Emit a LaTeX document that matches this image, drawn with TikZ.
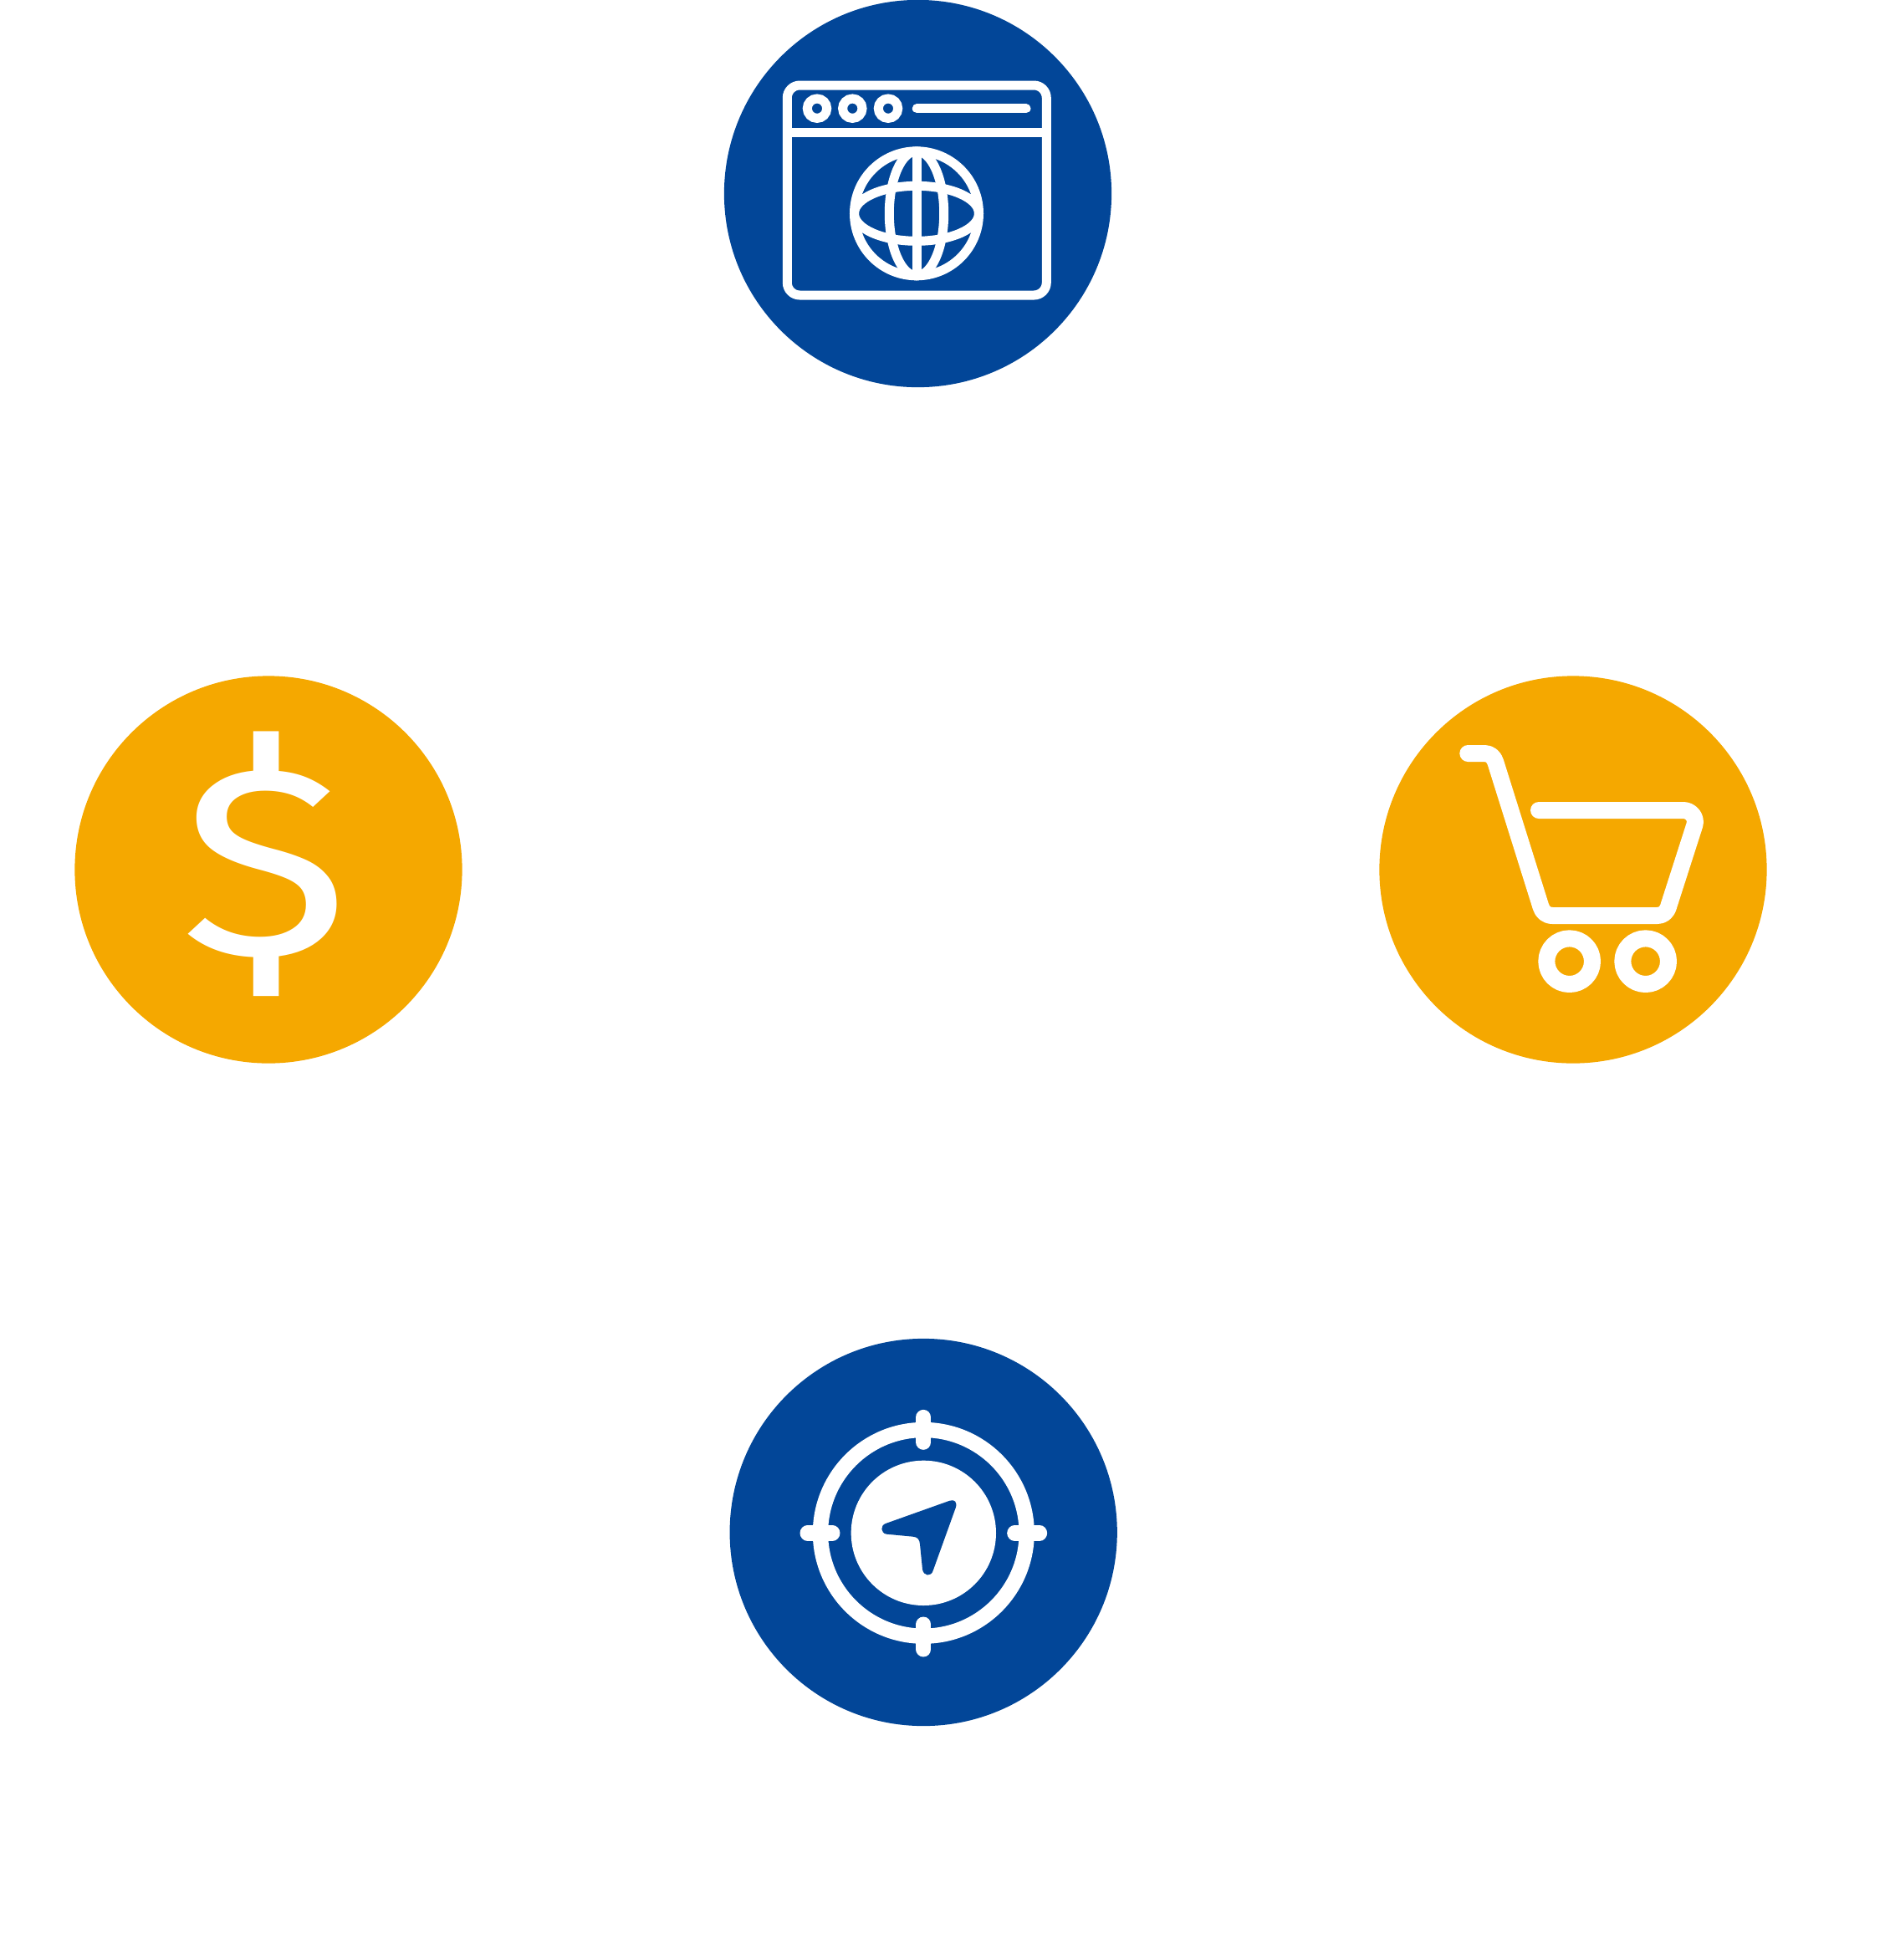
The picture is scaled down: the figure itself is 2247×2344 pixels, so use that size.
\documentclass[tikz,border=0pt]{standalone}
\usepackage{fontspec}
\setmainfont{Fira Sans}
\definecolor{discblue}{HTML}{024698}
\definecolor{discorange}{HTML}{F5A800}
\tikzset{
  disc/.style={circle, minimum size=4.63cm, inner sep=0pt},
  bluedisc/.style={disc, fill=discblue},
  orangedisc/.style={disc, fill=discorange},
  icon/.style={draw=white, line width=0.11cm},
  cartline/.style={draw=white, line width=0.2cm, line cap=round, line join=round},
  tick/.style={draw=white, line width=0.183cm, line cap=round}
}
\begin{document}
\begin{tikzpicture}[x=0.01cm,y=-0.01cm]
        \useasboundingbox (0,0) rectangle (2247,2344);
        %%%%%%%%%% Dischi %%%%%%%%%%
        \node[bluedisc] (web) at (1097.5,231.5) {};
        \node[orangedisc] (money) at (321,1040) {};
        \node[orangedisc] (cart) at (1881,1040) {};
        \node[bluedisc] (nav) at (1104.2,1832.5) {};

        %%%%%%%%%% Browser %%%%%%%%%%
        \draw[icon, rounded corners=0.15cm] (941.3,102) rectangle (1251.3,353);
        \draw[icon] (941.3,158) -- (1251.3,158);
        \foreach \px in {977,1019.3,1062}
            \draw[icon] (\px,129.7) circle[radius=11.7];
        \draw[icon, line cap=round] (1096.3,129.8) -- (1227,129.8);
        \draw[icon] (1096,255.3) circle[radius=74.5];
        \draw[icon] (1096,255.3) ellipse[x radius=32.7, y radius=74.5];
        \draw[icon] (1096,255.3) ellipse[x radius=74.5, y radius=33];
        \draw[icon] (1096,181) -- (1096,330);

        %%%%%%%%%% Dollaro %%%%%%%%%%
        \node[text=white, inner sep=0pt, xscale=1.18, transform shape, font=\fontsize{92}{92}\selectfont] (dollar) at (316.7,1033) {\$};

        %%%%%%%%%% Carrello %%%%%%%%%%
        \begin{scope}[shift={(1640,800)},x=0.01cm/3,y=-0.01cm/3]
            \draw[cartline] (346,303) -- (405,303) .. controls (425,303) and (439,315) .. (445,335)
                -- (607,852) .. controls (613,873) and (628,885) .. (650,885)
                -- (1025,885) .. controls (1045,885) and (1060,873) .. (1066,850)
                -- (1159,560) .. controls (1167,532) and (1145,507) .. (1118,507) -- (600,507);
            \draw[cartline] (710,1049) circle[radius=82];
            \draw[cartline] (983,1049) circle[radius=82];
        \end{scope}

        %%%%%%%%%% Bussola %%%%%%%%%%
        \begin{scope}[shift={(860,1600)},x=0.01cm/3,y=-0.01cm/3]
            \draw[tick] (733,700) circle[radius=370];
            \draw[tick] (733,285) -- (733,374);
            \draw[tick] (733,1028) -- (733,1117);
            \draw[tick] (317,700) -- (406,700);
            \draw[tick] (1060,700) -- (1149,700);
            \fill[white] (733,700) circle[radius=260];
            \fill[discblue] (827,584) -- (597,666) .. controls (578,672) and (578,700) .. (600,704)
                -- (695,713) .. controls (712,715) and (718,722) .. (720,740)
                -- (729,830) .. controls (733,855) and (760,858) .. (767,835)
                -- (848,610) .. controls (855,590) and (845,578) .. (827,584) -- cycle;
        \end{scope}
    \end{tikzpicture}
\end{document}
